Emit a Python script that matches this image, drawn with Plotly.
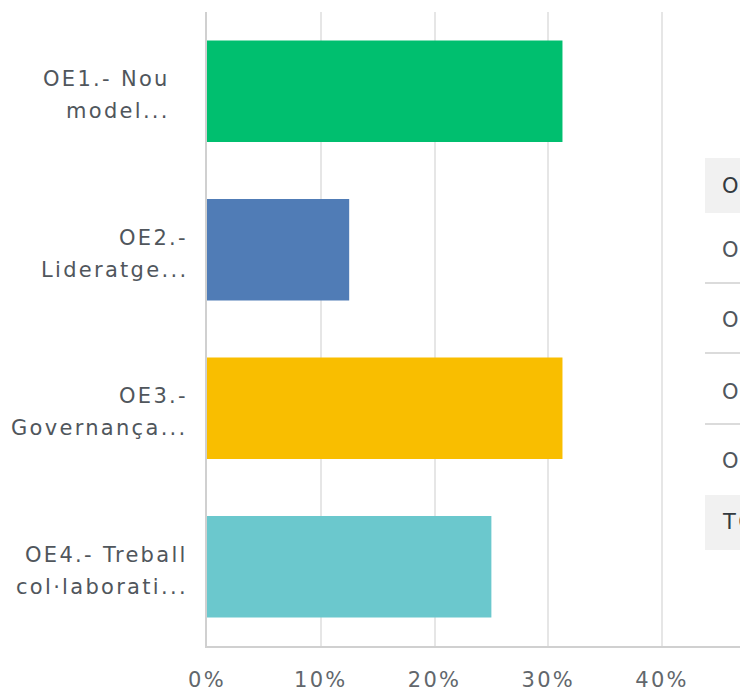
import plotly.graph_objects as go

# ---- data ----
categories = ["OE1.- Nou model...", "OE2.- Lideratge...", "OE3.- Governança...", "OE4.- Treball col·laborati..."]
label_lines = [["OE1.- Nou\u00a0\u00a0", "model...\u00a0\u00a0"],
               ["OE2.-", "Lideratge..."],
               ["OE3.-", "Governança..."],
               ["OE4.- Treball", "col·laborati..."]]
values = [0.3125, 0.125, 0.3125, 0.25]
colors = ["#00BF6F", "#507CB6", "#F9BE00", "#6BC8CD"]
tick_vals = [0, 0.1, 0.2, 0.3, 0.4]
tick_text = ["0%", "10%", "20%", "30%", "40%"]
table_header = "OPCIONS DE RESPOSTA"
table_rows = ["OE1.- Nou model de gestió", "OE2.- Lideratge", "OE3.- Governança", "OE4.- Treball col·laboratiu"]
table_footer = "TOTAL"

W, H = 740, 691
L, R, T, B = 207, 0, 12, 45
pw, ph = W - L - R, H - T - B
px_per_unit = 1137.5  # pixels per 100%
FONT = "DejaVu Sans"

def px(x):
    return (x - L) / pw

def py(y):
    return (H - B - y) / ph

fig = go.Figure()
fig.add_trace(go.Bar(
    x=values, y=categories, orientation="h",
    marker=dict(color=colors, line=dict(width=0)),
    width=0.64, hoverinfo="skip",
))

annotations = []
for cat, lines in zip(categories, label_lines):
    annotations.append(dict(x=0, xref="paper", y=cat, yref="y", text=lines[0],
                            xanchor="right", yanchor="middle", xshift=-17, yshift=12,
                            showarrow=False, font=dict(family=FONT, size=21, color="#50565c")))
    annotations.append(dict(x=0, xref="paper", y=cat, yref="y", text=lines[1],
                            xanchor="right", yanchor="middle", xshift=-17, yshift=-20,
                            showarrow=False, font=dict(family=FONT, size=21, color="#50565c")))

shapes = []
shapes.append(dict(type="rect", xref="paper", yref="paper", x0=px(705), x1=1.2,
                   y0=py(213), y1=py(158), fillcolor="#f1f1f1", line=dict(width=0), layer="below"))
shapes.append(dict(type="rect", xref="paper", yref="paper", x0=px(705), x1=1.2,
                   y0=py(550), y1=py(495), fillcolor="#f1f1f1", line=dict(width=0), layer="below"))
for yy in [283, 353, 424]:
    shapes.append(dict(type="line", xref="paper", yref="paper", x0=px(705), x1=1.2,
                       y0=py(yy), y1=py(yy), line=dict(color="#cfcfcf", width=1.5)))

annotations.append(dict(x=px(720), xref="paper", y=py(186), yref="paper", text=table_header,
                        xanchor="left", yanchor="middle", showarrow=False,
                        font=dict(family=FONT, size=21, color="#333a40")))
for txt, yy in zip(table_rows, [250, 320, 392, 461]):
    annotations.append(dict(x=px(720), xref="paper", y=py(yy), yref="paper", text=txt,
                            xanchor="left", yanchor="middle", showarrow=False,
                            font=dict(family=FONT, size=21, color="#50565c")))
annotations.append(dict(x=px(720), xref="paper", y=py(522), yref="paper", text=table_footer,
                        xanchor="left", yanchor="middle", showarrow=False,
                        font=dict(family=FONT, size=21, color="#333a40")))

fig.update_layout(
    width=W, height=H,
    margin=dict(l=L, r=R, t=T, b=B, pad=0, autoexpand=False),
    paper_bgcolor="white", plot_bgcolor="white",
    showlegend=False,
    font=dict(family=FONT, size=21, color="#666"),
    annotations=annotations, shapes=shapes,
    bargap=0.36,
)
fig.update_xaxes(
    range=[0, pw / px_per_unit], tickvals=tick_vals, ticktext=tick_text,
    showgrid=True, gridcolor="#e6e6e6", gridwidth=1.5,
    showline=True, linecolor="#d0d0d0", linewidth=2,
    zeroline=False, ticks="", ticklabelstandoff=14, automargin=False,
    tickfont=dict(family=FONT, size=21, color="#62676c"), fixedrange=True,
)
fig.update_yaxes(
    range=[3.5, -0.5], showticklabels=False, showgrid=False, automargin=False,
    showline=True, linecolor="#d0d0d0", linewidth=2, zeroline=False, ticks="",
    fixedrange=True,
)

# page tweaks: no body margin / scrollbars, and the wide letter spacing of the original font;
# re-plot with a changed family string so text boxes are re-measured with the spacing.
post = """
document.body.style.margin='0';
document.body.style.overflow='hidden';
document.documentElement.style.overflow='hidden';
var st=document.createElement('style');
st.innerHTML='text{letter-spacing:2.3px;}';
document.head.appendChild(st);
var gd=document.getElementById('{plot_id}');
var lay=JSON.parse(JSON.stringify(gd.layout).split('"DejaVu Sans"').join('"DejaVu Sans, sans-serif"'));
return Plotly.newPlot(gd, gd.data, lay, gd._context);
"""

fig.write_html("out.html", config=dict(displayModeBar=False), post_script=post)
